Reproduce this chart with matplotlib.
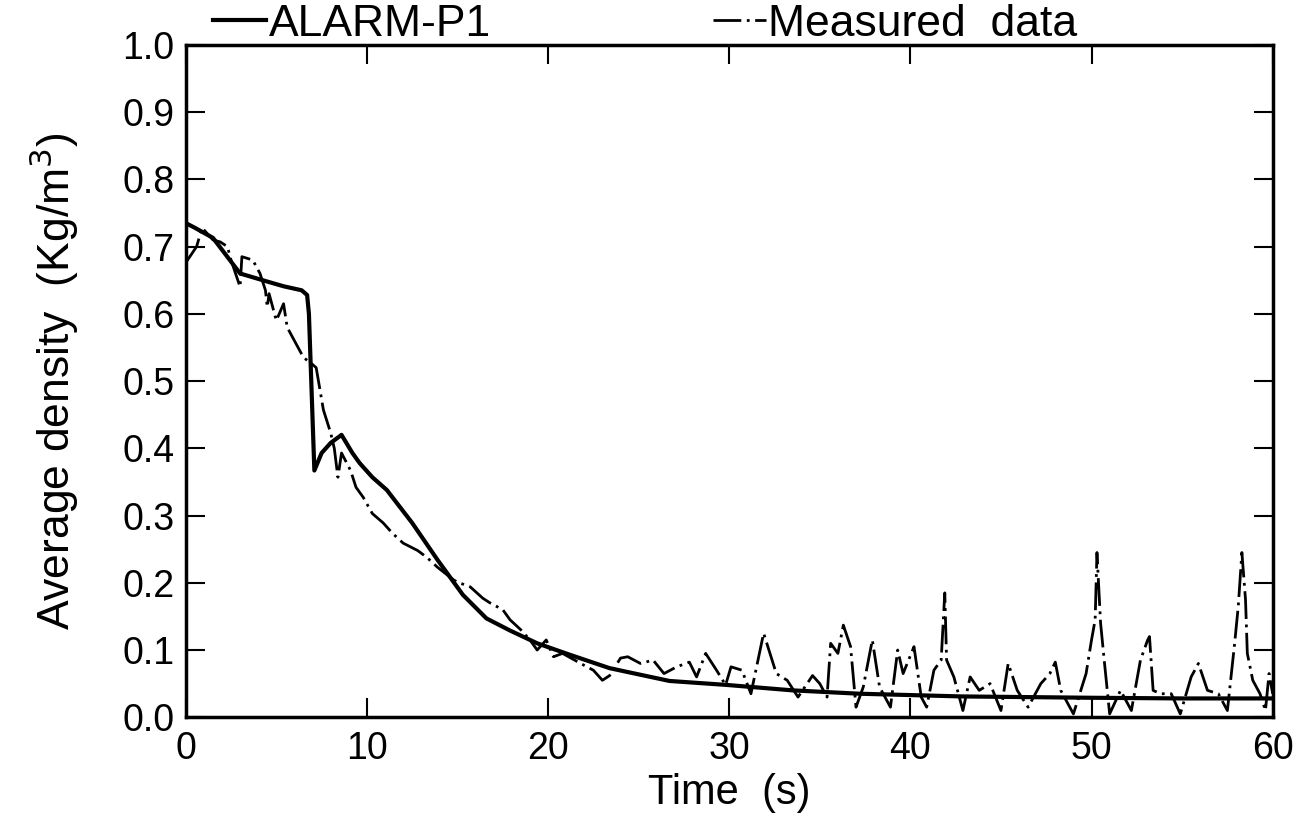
import matplotlib
matplotlib.use("Agg")
import matplotlib.pyplot as plt

plt.rcParams['font.family'] = ['Liberation Sans', 'DejaVu Sans']

# ALARM-P1 simulation (solid)
t_sim = [0.0, 0.5, 1.5, 3.0, 4.5, 5.4, 6.4, 6.7, 6.8, 7.1, 7.5, 8.0, 8.6, 9.2, 9.6,
         10.3, 11.1, 12.5, 13.9, 15.3, 16.6, 17.9, 19.4, 21.2, 23.4, 26.7, 29.9,
         33.5, 37.2, 42.8, 50.0, 55.0, 60.0]
rho_sim = [0.735, 0.728, 0.713, 0.66, 0.648, 0.641, 0.635, 0.628, 0.60, 0.367, 0.393, 0.408,
           0.42, 0.393, 0.378, 0.357, 0.338, 0.289, 0.234, 0.182, 0.147, 0.129, 0.110, 0.093,
           0.073, 0.054, 0.048, 0.040, 0.035, 0.031, 0.029, 0.028, 0.028]

# measured data (dash-dot)
t_meas = [0.0, 0.6, 0.9, 1.5, 1.9, 2.3, 2.5, 3.0, 3.1, 3.7, 4.1, 4.4, 4.5, 4.6, 5.0,
          5.4, 5.6, 6.5, 6.9, 7.2, 7.6, 8.0, 8.2, 8.4, 8.6, 9.1, 9.4, 9.8, 10.3, 10.9,
          11.4, 12.0, 12.8, 13.3, 13.9, 14.8, 15.1, 15.7, 16.4, 16.8, 17.5, 17.9, 18.5,
          19.0, 19.4, 19.9, 20.3, 20.8, 21.8, 22.5, 23.0, 23.4, 24.0, 24.4, 25.1, 25.8,
          26.4, 27.1, 27.8, 28.2, 28.7, 29.3, 29.8, 30.1, 30.7, 31.2, 31.9, 32.6, 33.2,
          33.8, 34.6, 35.0, 35.4, 35.6, 36.0, 36.3, 36.7, 37.0, 37.4, 37.9, 38.3, 38.9,
          39.3, 39.6, 40.2, 40.6, 40.9, 41.3, 41.7, 41.9, 42.0, 42.4, 42.9, 43.3, 43.8,
          44.4, 45.0, 45.4, 45.9, 46.5, 47.2, 47.7, 48.0, 48.3, 49.0, 49.7, 50.0, 50.2,
          50.3, 50.5, 50.7, 51.0, 51.6, 52.2, 52.7, 53.1, 53.2, 53.4, 53.8, 54.4, 54.9,
          55.5, 55.9, 56.4, 57.0, 57.5, 57.9, 58.1, 58.3, 58.5, 58.6, 58.9, 59.3, 59.6,
          59.8, 60.0]
rho_meas = [0.676, 0.70, 0.728, 0.71, 0.707, 0.70, 0.68, 0.64, 0.685, 0.68, 0.66, 0.635,
            0.61, 0.63, 0.59, 0.615, 0.58, 0.535, 0.527, 0.52, 0.457, 0.423, 0.40, 0.357,
            0.393, 0.367, 0.342, 0.327, 0.303, 0.289, 0.274, 0.259, 0.248, 0.238, 0.223,
            0.204, 0.20, 0.194, 0.177, 0.17, 0.16, 0.145, 0.13, 0.115, 0.10, 0.115, 0.09,
            0.095, 0.08, 0.07, 0.055, 0.062, 0.088, 0.09, 0.08, 0.085, 0.065, 0.075, 0.082,
            0.06, 0.095, 0.07, 0.048, 0.075, 0.07, 0.035, 0.125, 0.065, 0.055, 0.03, 0.062,
            0.05, 0.03, 0.11, 0.095, 0.137, 0.105, 0.015, 0.045, 0.115, 0.045, 0.015, 0.10,
            0.065, 0.105, 0.03, 0.015, 0.07, 0.085, 0.185, 0.085, 0.06, 0.01, 0.06, 0.04,
            0.05, 0.01, 0.08, 0.04, 0.015, 0.05, 0.065, 0.082, 0.04, 0.005, 0.065, 0.115,
            0.145, 0.245, 0.14, 0.085, 0.005, 0.04, 0.01, 0.085, 0.115, 0.12, 0.04, 0.035,
            0.035, 0.005, 0.06, 0.08, 0.04, 0.035, 0.01, 0.11, 0.165, 0.245, 0.175, 0.095,
            0.055, 0.035, 0.01, 0.065, 0.035]

fig = plt.figure(figsize=(13.08, 8.16), dpi=100)
ax = fig.add_axes([0.142, 0.121, 0.831, 0.824])

ax.plot(t_sim, rho_sim, color='black', lw=3.0, solid_joinstyle='round', label='ALARM-P1')
ax.plot(t_meas, rho_meas, color='black', lw=2.0, dashes=(10, 2, 1, 2), label='Measured  data')

ax.set_xlim(0, 60)
ax.set_ylim(0, 1.0)
ax.set_xticks([0, 10, 20, 30, 40, 50, 60])
ax.set_yticks([i / 10 for i in range(11)])
ax.set_yticklabels(['%.1f' % (i / 10) for i in range(11)])
ax.tick_params(direction='in', length=14, width=1.5, top=True, right=True,
               labelsize=27, pad=8)
ax.tick_params(axis='x', pad=10)
for s in ax.spines.values():
    s.set_linewidth(2.5)

ax.set_xlabel('Time  (s)', fontsize=30, labelpad=4)
ax.set_ylabel('Average density  (Kg/m$^3$)', fontsize=32, labelpad=30)

ax.legend(loc='lower left', bbox_to_anchor=(0.025, 1.0), ncol=2, frameon=False,
          fontsize=32, handlelength=1.2, handletextpad=0.05, columnspacing=5.0,
          borderaxespad=0.0, borderpad=0.0)

fig.savefig('out.png', dpi=100)
